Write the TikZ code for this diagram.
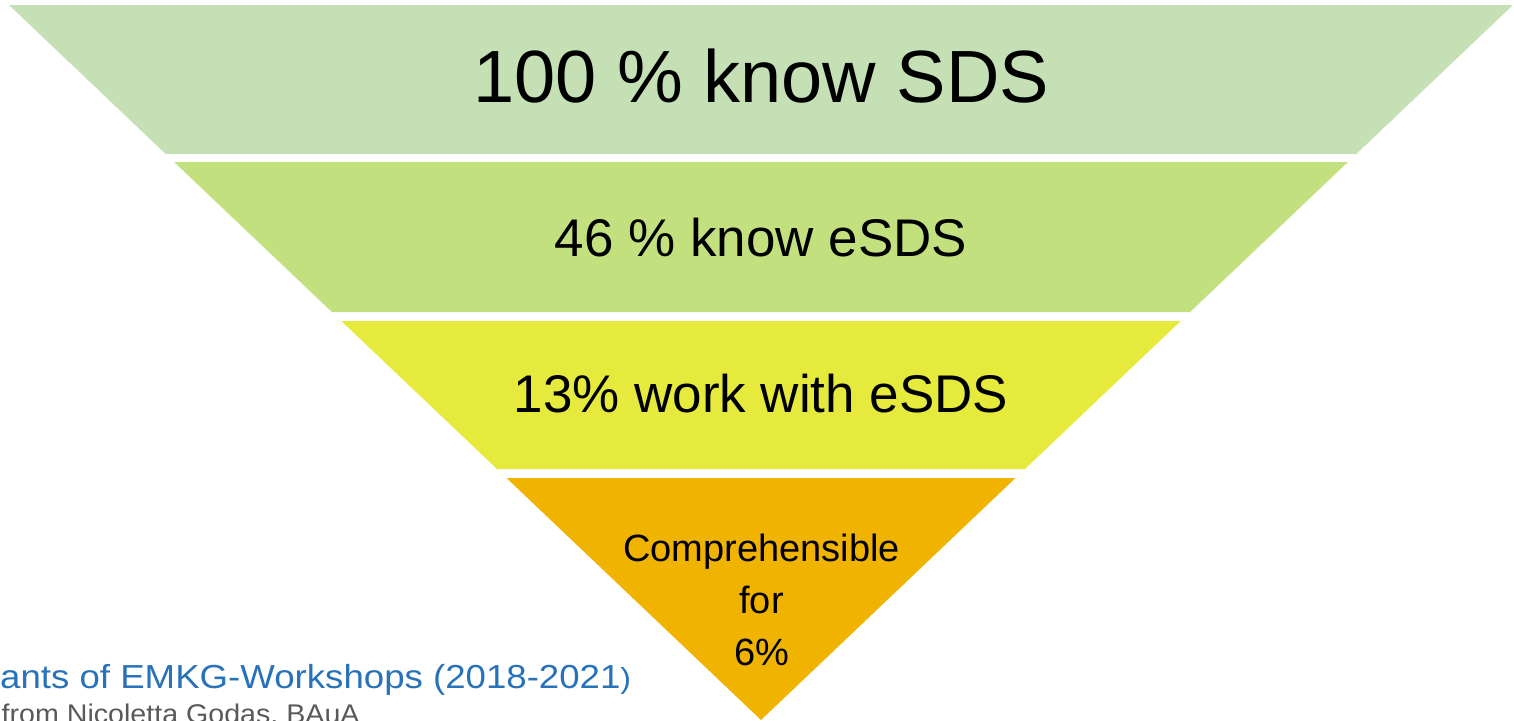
\documentclass[tikz,border=0pt]{standalone}
\usepackage{fontspec}
\setmainfont{Liberation Sans}
\definecolor{layA}{HTML}{C5E0B4}
\definecolor{layB}{HTML}{C3E07F}
\definecolor{layC}{HTML}{E5EA3C}
\definecolor{layD}{HTML}{F0B400}
\definecolor{srcblue}{HTML}{2872BA}
\definecolor{srcgray}{HTML}{595959}
\begin{document}
\begin{tikzpicture}[x=1pt,y=-1pt,
  label/.style={anchor=base, inner sep=0pt, text=black},
  note/.style={anchor=base west, inner sep=0pt}]
\useasboundingbox (0,0) rectangle (1514,720);
\clip (0,0) rectangle (1514,720);
% funnel bands
\fill[layA] (9,5) -- (1513,5) -- (1356.3,154) -- (165.7,154) -- cycle;
\fill[layB] (174.1,162) -- (1347.9,162) -- (1190.1,312) -- (331.9,312) -- cycle;
\fill[layC] (341.3,321) -- (1180.7,321) -- (1025,469) -- (497,469) -- cycle;
\fill[layD] (506.5,478) -- (1015.5,478) -- (761,720) -- cycle;
% labels
\node[label, font=\fontsize{74}{80}\selectfont] (t1) at (761,102.5) {100 \% know SDS};
\node[label, font=\fontsize{53}{60}\selectfont] (t2) at (761,256) {46 \% know eSDS};
\node[label, font=\fontsize{53}{60}\selectfont] (t3) at (761,412) {13\% work with eSDS};
\node[label, font=\fontsize{38}{44}\selectfont] (t4a) at (761.5,561) {Comprehensible};
\node[label, font=\fontsize{38}{44}\selectfont] (t4b) at (761.5,613) {for};
\node[label, font=\fontsize{38}{44}\selectfont] (t4c) at (761.5,665) {6\%};
% source notes
\node[note, text=srcblue] (src1) at (0,688) {\scalebox{1.1}[1]{\fontsize{33.3}{38}\selectfont ants of EMKG-Workshops (2018-2021\fontsize{29}{34}\selectfont)}};
\node[note, text=srcgray] (src2) at (1.5,723.5) {\scalebox{1.06}[1]{\fontsize{27}{31}\selectfont from Nicoletta Godas, BAuA}};
\end{tikzpicture}
\end{document}
